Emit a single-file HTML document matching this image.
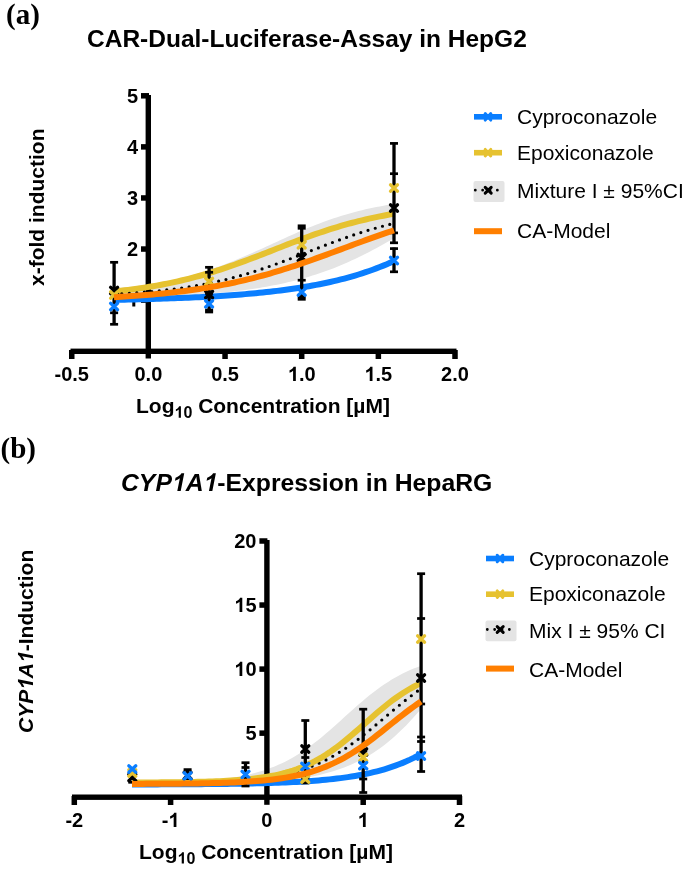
<!DOCTYPE html>
<html><head><meta charset="utf-8"><style>
html,body{margin:0;padding:0;background:#fff;}
svg{display:block;}
text{font-family:"Liberation Sans",sans-serif;fill:#000;}
.tk{font-weight:bold;font-size:20px;}
.ax{font-weight:bold;font-size:21px;}
.sub{font-size:16px;}
.ti{font-weight:bold;font-size:24.5px;}
.lg{font-size:21px;}
.o1{fill-opacity:0;}
.pl{font-family:"Liberation Serif",serif;font-weight:bold;font-size:29px;}
</style></head><body>
<svg style="will-change:transform" width="685" height="870" viewBox="0 0 685 870">
<path d="M114.00,288.49 L117.54,288.17 L121.09,287.83 L124.63,287.47 L128.18,287.08 L131.72,286.68 L135.27,286.25 L138.81,285.80 L142.35,285.32 L145.90,284.81 L149.44,284.28 L152.99,283.71 L156.53,283.12 L160.08,282.49 L163.62,281.83 L167.16,281.14 L170.71,280.41 L174.25,279.64 L177.80,278.84 L181.34,278.00 L184.89,277.12 L188.43,276.20 L191.97,275.23 L195.52,274.23 L199.06,273.19 L202.61,272.10 L206.15,270.98 L209.70,269.81 L213.24,268.60 L216.78,267.35 L220.33,266.06 L223.87,264.74 L227.42,263.37 L230.96,261.97 L234.51,260.54 L238.05,259.07 L241.59,257.58 L245.14,256.06 L248.68,254.51 L252.23,252.94 L255.77,251.35 L259.32,249.75 L262.86,248.14 L266.41,246.51 L269.95,244.89 L273.49,243.26 L277.04,241.63 L280.58,240.00 L284.13,238.39 L287.67,236.79 L291.22,235.20 L294.76,233.64 L298.30,232.09 L301.85,230.57 L305.39,229.08 L308.94,227.62 L312.48,226.19 L316.03,224.79 L319.57,223.43 L323.11,222.10 L326.66,220.82 L330.20,219.57 L333.75,218.37 L337.29,217.20 L340.84,216.08 L344.38,215.00 L347.92,213.96 L351.47,212.96 L355.01,212.00 L358.56,211.08 L362.10,210.21 L365.65,209.37 L369.19,208.57 L372.73,207.80 L376.28,207.08 L379.82,206.39 L383.37,205.73 L386.91,205.10 L390.46,204.51 L394.00,203.95 L394.00,238.07 L390.46,240.14 L386.91,242.19 L383.37,244.21 L379.82,246.19 L376.28,248.14 L372.73,250.04 L369.19,251.91 L365.65,253.74 L362.10,255.52 L358.56,257.26 L355.01,258.95 L351.47,260.60 L347.92,262.20 L344.38,263.75 L340.84,265.26 L337.29,266.72 L333.75,268.13 L330.20,269.49 L326.66,270.81 L323.11,272.07 L319.57,273.30 L316.03,274.47 L312.48,275.61 L308.94,276.69 L305.39,277.74 L301.85,278.74 L298.30,279.70 L294.76,280.63 L291.22,281.51 L287.67,282.35 L284.13,283.16 L280.58,283.93 L277.04,284.67 L273.49,285.37 L269.95,286.05 L266.41,286.69 L262.86,287.30 L259.32,287.88 L255.77,288.44 L252.23,288.97 L248.68,289.47 L245.14,289.95 L241.59,290.40 L238.05,290.84 L234.51,291.25 L230.96,291.64 L227.42,292.01 L223.87,292.36 L220.33,292.70 L216.78,293.02 L213.24,293.32 L209.70,293.61 L206.15,293.88 L202.61,294.14 L199.06,294.38 L195.52,294.61 L191.97,294.83 L188.43,295.04 L184.89,295.24 L181.34,295.43 L177.80,295.60 L174.25,295.77 L170.71,295.93 L167.16,296.08 L163.62,296.23 L160.08,296.36 L156.53,296.49 L152.99,296.61 L149.44,296.72 L145.90,296.83 L142.35,296.94 L138.81,297.03 L135.27,297.12 L131.72,297.21 L128.18,297.29 L124.63,297.37 L121.09,297.45 L117.54,297.52 L114.00,297.58 Z" fill="#E4E4E4"/>
<rect x="145.6" y="95" width="5.4" height="263.5" fill="#000"/>
<rect x="141" y="93.05" width="8" height="5.5" fill="#000"/>
<rect x="141" y="144.13" width="8" height="5.5" fill="#000"/>
<rect x="141" y="195.21" width="8" height="5.5" fill="#000"/>
<rect x="141" y="246.29" width="8" height="5.5" fill="#000"/>
<rect x="141" y="297.37" width="8" height="5.5" fill="#000"/>
<rect x="70.5" y="348.6" width="386" height="5.4" fill="#000"/>
<rect x="69.00" y="350" width="5.5" height="9" fill="#000"/>
<rect x="222.30" y="350" width="5.5" height="9" fill="#000"/>
<rect x="298.95" y="350" width="5.5" height="9" fill="#000"/>
<rect x="375.60" y="350" width="5.5" height="9" fill="#000"/>
<rect x="452.25" y="350" width="5.5" height="9" fill="#000"/>
<text x="138.2" y="102.80" text-anchor="end" class="tk">5</text>
<text x="138.2" y="153.88" text-anchor="end" class="tk">4</text>
<text x="138.2" y="204.96" text-anchor="end" class="tk">3</text>
<text x="138.2" y="256.04" text-anchor="end" class="tk">2</text>
<rect x="132.3" y="296" width="3" height="10.5" fill="#000"/>
<text x="71.75" y="381" text-anchor="middle" class="tk">-0.5</text>
<text x="148.40" y="381" text-anchor="middle" class="tk">0.0</text>
<text x="225.05" y="381" text-anchor="middle" class="tk">0.5</text>
<text x="301.70" y="381" text-anchor="middle" class="tk"><tspan class="o1">1</tspan>.0</text>
<text x="378.35" y="381" text-anchor="middle" class="tk"><tspan class="o1">1</tspan>.5</text>
<text x="455.00" y="381" text-anchor="middle" class="tk">2.0</text>
<path d="M114.00,299.86 L117.54,299.79 L121.09,299.72 L124.63,299.65 L128.18,299.57 L131.72,299.49 L135.27,299.41 L138.81,299.32 L142.35,299.23 L145.90,299.13 L149.44,299.04 L152.99,298.93 L156.53,298.83 L160.08,298.72 L163.62,298.60 L167.16,298.48 L170.71,298.36 L174.25,298.23 L177.80,298.09 L181.34,297.95 L184.89,297.80 L188.43,297.65 L191.97,297.49 L195.52,297.32 L199.06,297.15 L202.61,296.97 L206.15,296.78 L209.70,296.59 L213.24,296.39 L216.78,296.17 L220.33,295.95 L223.87,295.72 L227.42,295.48 L230.96,295.23 L234.51,294.98 L238.05,294.71 L241.59,294.42 L245.14,294.13 L248.68,293.83 L252.23,293.51 L255.77,293.18 L259.32,292.83 L262.86,292.47 L266.41,292.10 L269.95,291.71 L273.49,291.30 L277.04,290.88 L280.58,290.44 L284.13,289.99 L287.67,289.51 L291.22,289.01 L294.76,288.49 L298.30,287.96 L301.85,287.40 L305.39,286.81 L308.94,286.20 L312.48,285.57 L316.03,284.91 L319.57,284.22 L323.11,283.51 L326.66,282.76 L330.20,281.99 L333.75,281.18 L337.29,280.34 L340.84,279.46 L344.38,278.55 L347.92,277.60 L351.47,276.61 L355.01,275.58 L358.56,274.50 L362.10,273.39 L365.65,272.22 L369.19,271.01 L372.73,269.75 L376.28,268.43 L379.82,267.07 L383.37,265.64 L386.91,264.15 L390.46,262.61 L394.00,261.00" stroke="#0A7EFF" stroke-width="6.0" fill="none"/>
<path d="M114.00,291.45 L117.54,291.08 L121.09,290.69 L124.63,290.28 L128.18,289.86 L131.72,289.41 L135.27,288.94 L138.81,288.44 L142.35,287.93 L145.90,287.39 L149.44,286.82 L152.99,286.23 L156.53,285.62 L160.08,284.98 L163.62,284.31 L167.16,283.61 L170.71,282.88 L174.25,282.13 L177.80,281.34 L181.34,280.52 L184.89,279.68 L188.43,278.80 L191.97,277.90 L195.52,276.96 L199.06,275.99 L202.61,274.99 L206.15,273.96 L209.70,272.90 L213.24,271.81 L216.78,270.70 L220.33,269.55 L223.87,268.38 L227.42,267.18 L230.96,265.96 L234.51,264.71 L238.05,263.44 L241.59,262.15 L245.14,260.85 L248.68,259.52 L252.23,258.18 L255.77,256.83 L259.32,255.46 L262.86,254.09 L266.41,252.71 L269.95,251.33 L273.49,249.94 L277.04,248.56 L280.58,247.17 L284.13,245.79 L287.67,244.42 L291.22,243.06 L294.76,241.71 L298.30,240.37 L301.85,239.05 L305.39,237.75 L308.94,236.46 L312.48,235.20 L316.03,233.95 L319.57,232.73 L323.11,231.54 L326.66,230.37 L330.20,229.23 L333.75,228.12 L337.29,227.04 L340.84,225.98 L344.38,224.96 L347.92,223.97 L351.47,223.00 L355.01,222.07 L358.56,221.17 L362.10,220.30 L365.65,219.46 L369.19,218.65 L372.73,217.87 L376.28,217.12 L379.82,216.40 L383.37,215.70 L386.91,215.04 L390.46,214.40 L394.00,213.79" stroke="#E6C230" stroke-width="6.0" fill="none"/>
<path d="M114.00,294.18 L117.54,293.99 L121.09,293.79 L124.63,293.58 L128.18,293.35 L131.72,293.12 L135.27,292.87 L138.81,292.60 L142.35,292.32 L145.90,292.03 L149.44,291.72 L152.99,291.39 L156.53,291.04 L160.08,290.68 L163.62,290.30 L167.16,289.89 L170.71,289.47 L174.25,289.02 L177.80,288.55 L181.34,288.06 L184.89,287.54 L188.43,287.00 L191.97,286.43 L195.52,285.83 L199.06,285.20 L202.61,284.55 L206.15,283.87 L209.70,283.16 L213.24,282.41 L216.78,281.64 L220.33,280.84 L223.87,280.00 L227.42,279.13 L230.96,278.23 L234.51,277.29 L238.05,276.33 L241.59,275.33 L245.14,274.30 L248.68,273.24 L252.23,272.15 L255.77,271.02 L259.32,269.87 L262.86,268.69 L266.41,267.48 L269.95,266.25 L273.49,265.00 L277.04,263.72 L280.58,262.42 L284.13,261.10 L287.67,259.77 L291.22,258.42 L294.76,257.06 L298.30,255.69 L301.85,254.31 L305.39,252.93 L308.94,251.55 L312.48,250.17 L316.03,248.79 L319.57,247.42 L323.11,246.05 L326.66,244.70 L330.20,243.36 L333.75,242.03 L337.29,240.72 L340.84,239.43 L344.38,238.16 L347.92,236.92 L351.47,235.70 L355.01,234.50 L358.56,233.34 L362.10,232.20 L365.65,231.09 L369.19,230.01 L372.73,228.97 L376.28,227.95 L379.82,226.97 L383.37,226.02 L386.91,225.10 L390.46,224.21 L394.00,223.36" stroke="#000" stroke-width="3.2" stroke-dasharray="0 7.52" stroke-dashoffset="-0.3" stroke-linecap="round" fill="none"/>
<line x1="114.10" y1="262.30" x2="114.10" y2="324.30" stroke="#000" stroke-width="3.3"/><rect x="110.10" y="260.95" width="8.00" height="2.70" fill="#000"/><rect x="110.10" y="311.45" width="8.00" height="2.70" fill="#000"/><rect x="110.10" y="322.95" width="8.00" height="2.70" fill="#000"/>
<line x1="209.10" y1="267.30" x2="209.10" y2="311.50" stroke="#000" stroke-width="3.3"/><rect x="205.10" y="265.95" width="8.00" height="2.70" fill="#000"/><rect x="205.10" y="270.95" width="8.00" height="2.70" fill="#000"/><rect x="205.10" y="292.15" width="8.00" height="2.70" fill="#000"/><rect x="205.10" y="308.65" width="8.00" height="2.70" fill="#000"/><rect x="205.10" y="310.65" width="8.00" height="2.70" fill="#000"/>
<line x1="301.70" y1="225.50" x2="301.70" y2="299.30" stroke="#000" stroke-width="3.3"/><rect x="297.70" y="224.45" width="8.00" height="2.70" fill="#000"/><rect x="297.70" y="226.95" width="8.00" height="2.70" fill="#000"/><rect x="297.70" y="278.85" width="8.00" height="2.70" fill="#000"/><rect x="297.70" y="295.45" width="8.00" height="2.70" fill="#000"/><rect x="297.70" y="297.95" width="8.00" height="2.70" fill="#000"/>
<line x1="394.00" y1="143.40" x2="394.00" y2="243.70" stroke="#000" stroke-width="3.3"/><line x1="394.00" y1="247.60" x2="394.00" y2="271.80" stroke="#000" stroke-width="3.3"/><rect x="390.00" y="142.05" width="8.00" height="2.70" fill="#000"/><rect x="390.00" y="172.35" width="8.00" height="2.70" fill="#000"/><rect x="390.00" y="231.55" width="8.00" height="2.70" fill="#000"/><rect x="390.00" y="241.45" width="8.00" height="2.70" fill="#000"/><rect x="390.00" y="247.25" width="8.00" height="2.70" fill="#000"/><rect x="390.00" y="270.45" width="8.00" height="2.70" fill="#000"/>
<path d="M110.60,287.35 L117.60,293.65 M110.60,293.65 L117.60,287.35" stroke="#000" stroke-width="3.3" stroke-linecap="round" fill="none"/>
<path d="M205.60,291.35 L212.60,297.65 M205.60,297.65 L212.60,291.35" stroke="#000" stroke-width="3.3" stroke-linecap="round" fill="none"/>
<path d="M298.20,254.35 L305.20,260.65 M298.20,260.65 L305.20,254.35" stroke="#000" stroke-width="3.3" stroke-linecap="round" fill="none"/>
<path d="M390.50,204.85 L397.50,211.15 M390.50,211.15 L397.50,204.85" stroke="#000" stroke-width="3.3" stroke-linecap="round" fill="none"/>
<path d="M110.60,291.85 L117.60,298.15 M110.60,298.15 L117.60,291.85" stroke="#E6C230" stroke-width="3.3" stroke-linecap="round" fill="none"/>
<path d="M205.60,278.35 L212.60,284.65 M205.60,284.65 L212.60,278.35" stroke="#E6C230" stroke-width="3.3" stroke-linecap="round" fill="none"/>
<path d="M298.20,241.65 L305.20,247.95 M298.20,247.95 L305.20,241.65" stroke="#E6C230" stroke-width="3.3" stroke-linecap="round" fill="none"/>
<path d="M390.50,184.85 L397.50,191.15 M390.50,191.15 L397.50,184.85" stroke="#E6C230" stroke-width="3.3" stroke-linecap="round" fill="none"/>
<path d="M110.60,303.35 L117.60,309.65 M110.60,309.65 L117.60,303.35" stroke="#0A7EFF" stroke-width="3.3" stroke-linecap="round" fill="none"/>
<path d="M205.60,300.65 L212.60,306.95 M205.60,306.95 L212.60,300.65" stroke="#0A7EFF" stroke-width="3.3" stroke-linecap="round" fill="none"/>
<path d="M298.20,288.85 L305.20,295.15 M298.20,295.15 L305.20,288.85" stroke="#0A7EFF" stroke-width="3.3" stroke-linecap="round" fill="none"/>
<path d="M390.50,257.35 L397.50,263.65 M390.50,263.65 L397.50,257.35" stroke="#0A7EFF" stroke-width="3.3" stroke-linecap="round" fill="none"/>
<path d="M114.00,297.13 L117.54,296.93 L121.09,296.73 L124.63,296.51 L128.18,296.29 L131.72,296.05 L135.27,295.81 L138.81,295.55 L142.35,295.28 L145.90,295.00 L149.44,294.70 L152.99,294.40 L156.53,294.08 L160.08,293.74 L163.62,293.39 L167.16,293.02 L170.71,292.64 L174.25,292.25 L177.80,291.83 L181.34,291.40 L184.89,290.95 L188.43,290.48 L191.97,289.99 L195.52,289.48 L199.06,288.96 L202.61,288.41 L206.15,287.84 L209.70,287.25 L213.24,286.63 L216.78,286.00 L220.33,285.34 L223.87,284.65 L227.42,283.95 L230.96,283.22 L234.51,282.46 L238.05,281.68 L241.59,280.87 L245.14,280.04 L248.68,279.18 L252.23,278.30 L255.77,277.39 L259.32,276.46 L262.86,275.50 L266.41,274.52 L269.95,273.51 L273.49,272.48 L277.04,271.42 L280.58,270.34 L284.13,269.24 L287.67,268.12 L291.22,266.97 L294.76,265.81 L298.30,264.62 L301.85,263.42 L305.39,262.20 L308.94,260.96 L312.48,259.71 L316.03,258.44 L319.57,257.16 L323.11,255.88 L326.66,254.58 L330.20,253.27 L333.75,251.96 L337.29,250.65 L340.84,249.33 L344.38,248.01 L347.92,246.69 L351.47,245.37 L355.01,244.06 L358.56,242.75 L362.10,241.45 L365.65,240.16 L369.19,238.88 L372.73,237.61 L376.28,236.35 L379.82,235.11 L383.37,233.88 L386.91,232.67 L390.46,231.48 L394.00,230.31" stroke="#FF7F00" stroke-width="6.0" fill="none"/>
<text x="6" y="24" class="pl">(a)</text>
<text x="87" y="47" class="ti">CAR-Dual-Luciferase-Assay in HepG2</text>
<text transform="translate(44,286) rotate(-90)" class="ax">x-fold induction</text>
<text x="136" y="412.8" class="ax">Log<tspan class="sub" dy="5"><tspan class="o1">1</tspan>0</tspan><tspan dy="-5"> Concentration [µM]</tspan></text>
<rect x="474" y="114.00" width="28" height="5.6" fill="#0A7EFF"/><path d="M485.20,113.55 L490.80,120.05 M485.20,120.05 L490.80,113.55" stroke="#0A7EFF" stroke-width="3.0" stroke-linecap="round" fill="none"/><text x="517" y="123.60" class="lg">Cyproconazole</text><rect x="474" y="149.90" width="28" height="5.6" fill="#E6C230"/><path d="M485.20,149.45 L490.80,155.95 M485.20,155.95 L490.80,149.45" stroke="#E6C230" stroke-width="3.0" stroke-linecap="round" fill="none"/><text x="517" y="160.00" class="lg">Epoxiconazole</text><rect x="473.5" y="181.10" width="31" height="20.8" rx="2" fill="#E4E4E4"/><path d="M475.3,190.20 L503.5,190.20" stroke="#000" stroke-width="2.8" stroke-dasharray="0 7.35" stroke-linecap="round"/><path d="M485.20,187.30 L491.20,193.10 M485.20,193.10 L491.20,187.30" stroke="#000" stroke-width="3.0" stroke-linecap="round" fill="none"/><text x="517" y="197.60" class="lg">Mixture I ± 95%CI</text><rect x="474" y="228.20" width="28" height="6" fill="#FF7F00"/><text x="517" y="238.20" class="lg">CA-Model</text>
<path d="M132.00,783.22 L135.66,783.18 L139.32,783.13 L142.97,783.08 L146.63,783.03 L150.29,782.96 L153.95,782.90 L157.61,782.82 L161.27,782.74 L164.92,782.65 L168.58,782.54 L172.24,782.43 L175.90,782.31 L179.56,782.17 L183.22,782.02 L186.87,781.86 L190.53,781.67 L194.19,781.47 L197.85,781.25 L201.51,781.00 L205.16,780.73 L208.82,780.44 L212.48,780.11 L216.14,779.75 L219.80,779.36 L223.46,778.93 L227.11,778.45 L230.77,777.93 L234.43,777.36 L238.09,776.73 L241.75,776.05 L245.41,775.30 L249.06,774.48 L252.72,773.59 L256.38,772.62 L260.04,771.57 L263.70,770.43 L267.35,769.19 L271.01,767.85 L274.67,766.40 L278.33,764.84 L281.99,763.17 L285.65,761.38 L289.30,759.46 L292.96,757.42 L296.62,755.25 L300.28,752.95 L303.94,750.53 L307.59,747.98 L311.25,745.31 L314.91,742.53 L318.57,739.64 L322.23,736.65 L325.89,733.57 L329.54,730.42 L333.20,727.20 L336.86,723.94 L340.52,720.65 L344.18,717.34 L347.84,714.04 L351.49,710.75 L355.15,707.49 L358.81,704.29 L362.47,701.15 L366.13,698.08 L369.78,695.11 L373.44,692.23 L377.10,689.47 L380.76,686.82 L384.42,684.29 L388.08,681.88 L391.73,679.61 L395.39,677.46 L399.05,675.43 L402.71,673.54 L406.37,671.76 L410.03,670.11 L413.68,668.57 L417.34,667.14 L421.00,665.81 L421.00,708.99 L417.34,713.23 L413.68,717.33 L410.03,721.30 L406.37,725.13 L402.71,728.81 L399.05,732.33 L395.39,735.70 L391.73,738.92 L388.08,741.98 L384.42,744.88 L380.76,747.63 L377.10,750.22 L373.44,752.67 L369.78,754.98 L366.13,757.14 L362.47,759.17 L358.81,761.08 L355.15,762.86 L351.49,764.52 L347.84,766.07 L344.18,767.51 L340.52,768.86 L336.86,770.11 L333.20,771.27 L329.54,772.35 L325.89,773.35 L322.23,774.27 L318.57,775.13 L314.91,775.92 L311.25,776.66 L307.59,777.33 L303.94,777.96 L300.28,778.54 L296.62,779.07 L292.96,779.56 L289.30,780.02 L285.65,780.44 L281.99,780.82 L278.33,781.18 L274.67,781.50 L271.01,781.81 L267.35,782.08 L263.70,782.34 L260.04,782.57 L256.38,782.79 L252.72,782.99 L249.06,783.17 L245.41,783.34 L241.75,783.49 L238.09,783.63 L234.43,783.77 L230.77,783.89 L227.11,784.00 L223.46,784.10 L219.80,784.19 L216.14,784.28 L212.48,784.35 L208.82,784.43 L205.16,784.49 L201.51,784.55 L197.85,784.61 L194.19,784.66 L190.53,784.71 L186.87,784.75 L183.22,784.79 L179.56,784.83 L175.90,784.86 L172.24,784.89 L168.58,784.92 L164.92,784.95 L161.27,784.97 L157.61,784.99 L153.95,785.01 L150.29,785.03 L146.63,785.05 L142.97,785.07 L139.32,785.08 L135.66,785.09 L132.00,785.11 Z" fill="#E4E4E4"/>
<rect x="264.2" y="540" width="5.4" height="264.8" fill="#000"/>
<rect x="259.4" y="538.25" width="8" height="5.5" fill="#000"/>
<rect x="259.4" y="602.30" width="8" height="5.5" fill="#000"/>
<rect x="259.4" y="666.35" width="8" height="5.5" fill="#000"/>
<rect x="259.4" y="730.40" width="8" height="5.5" fill="#000"/>
<rect x="72" y="794.5" width="390" height="5.4" fill="#000"/>
<rect x="71.55" y="796" width="5.5" height="9" fill="#000"/>
<rect x="167.85" y="796" width="5.5" height="9" fill="#000"/>
<rect x="360.45" y="796" width="5.5" height="9" fill="#000"/>
<rect x="456.75" y="796" width="5.5" height="9" fill="#000"/>
<text x="256.5" y="548.00" text-anchor="end" class="tk">20</text>
<text x="256.5" y="612.05" text-anchor="end" class="tk"><tspan class="o1">1</tspan>5</text>
<text x="256.5" y="676.10" text-anchor="end" class="tk"><tspan class="o1">1</tspan>0</text>
<text x="256.5" y="740.15" text-anchor="end" class="tk">5</text>
<text x="74.30" y="827" text-anchor="middle" class="tk">-2</text>
<text x="170.60" y="827" text-anchor="middle" class="tk">-<tspan class="o1">1</tspan></text>
<text x="266.90" y="827" text-anchor="middle" class="tk">0</text>
<text x="363.20" y="827" text-anchor="middle" class="tk"><tspan class="o1">1</tspan></text>
<text x="459.50" y="827" text-anchor="middle" class="tk">2</text>
<path d="M132.00,784.44 L135.66,784.43 L139.32,784.43 L142.97,784.42 L146.63,784.41 L150.29,784.40 L153.95,784.39 L157.61,784.38 L161.27,784.37 L164.92,784.35 L168.58,784.34 L172.24,784.32 L175.90,784.31 L179.56,784.29 L183.22,784.27 L186.87,784.25 L190.53,784.23 L194.19,784.20 L197.85,784.18 L201.51,784.15 L205.16,784.12 L208.82,784.09 L212.48,784.05 L216.14,784.02 L219.80,783.98 L223.46,783.93 L227.11,783.89 L230.77,783.84 L234.43,783.78 L238.09,783.72 L241.75,783.66 L245.41,783.59 L249.06,783.52 L252.72,783.44 L256.38,783.36 L260.04,783.27 L263.70,783.17 L267.35,783.07 L271.01,782.95 L274.67,782.83 L278.33,782.70 L281.99,782.56 L285.65,782.41 L289.30,782.24 L292.96,782.07 L296.62,781.88 L300.28,781.67 L303.94,781.45 L307.59,781.22 L311.25,780.96 L314.91,780.69 L318.57,780.40 L322.23,780.08 L325.89,779.74 L329.54,779.38 L333.20,778.98 L336.86,778.56 L340.52,778.11 L344.18,777.62 L347.84,777.10 L351.49,776.54 L355.15,775.94 L358.81,775.29 L362.47,774.60 L366.13,773.85 L369.78,773.06 L373.44,772.20 L377.10,771.29 L380.76,770.31 L384.42,769.26 L388.08,768.14 L391.73,766.95 L395.39,765.67 L399.05,764.30 L402.71,762.84 L406.37,761.29 L410.03,759.63 L413.68,757.87 L417.34,756.00 L421.00,754.00" stroke="#0A7EFF" stroke-width="6.0" fill="none"/>
<path d="M132.00,784.08 L135.66,784.06 L139.32,784.04 L142.97,784.01 L146.63,783.98 L150.29,783.95 L153.95,783.92 L157.61,783.89 L161.27,783.85 L164.92,783.80 L168.58,783.76 L172.24,783.70 L175.90,783.65 L179.56,783.59 L183.22,783.52 L186.87,783.44 L190.53,783.36 L194.19,783.27 L197.85,783.17 L201.51,783.06 L205.16,782.94 L208.82,782.81 L212.48,782.67 L216.14,782.51 L219.80,782.34 L223.46,782.16 L227.11,781.95 L230.77,781.73 L234.43,781.48 L238.09,781.21 L241.75,780.92 L245.41,780.59 L249.06,780.24 L252.72,779.86 L256.38,779.44 L260.04,778.99 L263.70,778.49 L267.35,777.95 L271.01,777.36 L274.67,776.71 L278.33,776.02 L281.99,775.26 L285.65,774.44 L289.30,773.55 L292.96,772.59 L296.62,771.56 L300.28,770.44 L303.94,769.23 L307.59,767.94 L311.25,766.55 L314.91,765.06 L318.57,763.47 L322.23,761.77 L325.89,759.96 L329.54,758.05 L333.20,756.02 L336.86,753.88 L340.52,751.63 L344.18,749.27 L347.84,746.80 L351.49,744.23 L355.15,741.57 L358.81,738.81 L362.47,735.97 L366.13,733.05 L369.78,730.07 L373.44,727.04 L377.10,723.97 L380.76,720.88 L384.42,717.77 L388.08,714.66 L391.73,711.56 L395.39,708.49 L399.05,705.46 L402.71,702.48 L406.37,699.57 L410.03,696.73 L413.68,693.97 L417.34,691.31 L421.00,688.74" stroke="#000" stroke-width="3.2" stroke-dasharray="0 7.64" stroke-dashoffset="-6.25" stroke-linecap="round" fill="none"/>
<path d="M132.00,782.50 L135.66,782.49 L139.32,782.48 L142.97,782.46 L146.63,782.45 L150.29,782.43 L153.95,782.41 L157.61,782.38 L161.27,782.36 L164.92,782.33 L168.58,782.30 L172.24,782.26 L175.90,782.22 L179.56,782.17 L183.22,782.12 L186.87,782.07 L190.53,782.00 L194.19,781.93 L197.85,781.86 L201.51,781.77 L205.16,781.67 L208.82,781.56 L212.48,781.44 L216.14,781.31 L219.80,781.16 L223.46,780.99 L227.11,780.80 L230.77,780.59 L234.43,780.36 L238.09,780.11 L241.75,779.82 L245.41,779.50 L249.06,779.15 L252.72,778.76 L256.38,778.32 L260.04,777.84 L263.70,777.31 L267.35,776.72 L271.01,776.07 L274.67,775.35 L278.33,774.56 L281.99,773.69 L285.65,772.73 L289.30,771.68 L292.96,770.53 L296.62,769.28 L300.28,767.91 L303.94,766.43 L307.59,764.82 L311.25,763.08 L314.91,761.21 L318.57,759.21 L322.23,757.06 L325.89,754.78 L329.54,752.36 L333.20,749.80 L336.86,747.12 L340.52,744.32 L344.18,741.41 L347.84,738.40 L351.49,735.31 L355.15,732.14 L358.81,728.93 L362.47,725.69 L366.13,722.44 L369.78,719.20 L373.44,715.98 L377.10,712.82 L380.76,709.71 L384.42,706.69 L388.08,703.77 L391.73,700.95 L395.39,698.26 L399.05,695.69 L402.71,693.25 L406.37,690.95 L410.03,688.79 L413.68,686.77 L417.34,684.88 L421.00,683.13" stroke="#E6C230" stroke-width="6.0" fill="none"/>
<rect x="128.30" y="780.95" width="8.00" height="2.70" fill="#000"/>
<line x1="187.60" y1="769.60" x2="187.60" y2="780.00" stroke="#000" stroke-width="3.3"/><rect x="183.60" y="768.25" width="8.00" height="2.70" fill="#000"/>
<line x1="245.50" y1="762.70" x2="245.50" y2="786.00" stroke="#000" stroke-width="3.3"/><rect x="241.50" y="761.35" width="8.00" height="2.70" fill="#000"/><rect x="241.50" y="766.15" width="8.00" height="2.70" fill="#000"/><rect x="241.50" y="784.65" width="8.00" height="2.70" fill="#000"/>
<line x1="305.30" y1="720.50" x2="305.30" y2="783.50" stroke="#000" stroke-width="3.3"/><rect x="301.30" y="719.15" width="8.00" height="2.70" fill="#000"/><rect x="301.30" y="756.15" width="8.00" height="2.70" fill="#000"/><rect x="301.30" y="776.65" width="8.00" height="2.70" fill="#000"/><rect x="301.30" y="781.65" width="8.00" height="2.70" fill="#000"/>
<line x1="363.20" y1="709.20" x2="363.20" y2="792.50" stroke="#000" stroke-width="3.3"/><rect x="359.20" y="707.85" width="8.00" height="2.70" fill="#000"/><rect x="359.20" y="749.65" width="8.00" height="2.70" fill="#000"/><rect x="359.20" y="777.65" width="8.00" height="2.70" fill="#000"/><rect x="359.20" y="791.15" width="8.00" height="2.70" fill="#000"/>
<line x1="421.10" y1="573.70" x2="421.10" y2="771.50" stroke="#000" stroke-width="3.3"/><rect x="417.10" y="572.35" width="8.00" height="2.70" fill="#000"/><rect x="417.10" y="617.15" width="8.00" height="2.70" fill="#000"/><rect x="417.10" y="702.65" width="8.00" height="2.70" fill="#000"/><rect x="417.10" y="735.65" width="8.00" height="2.70" fill="#000"/><rect x="417.10" y="740.15" width="8.00" height="2.70" fill="#000"/><rect x="417.10" y="770.15" width="8.00" height="2.70" fill="#000"/>
<path d="M128.80,774.35 L135.80,780.65 M128.80,780.65 L135.80,774.35" stroke="#000" stroke-width="3.3" stroke-linecap="round" fill="none"/>
<path d="M184.10,772.35 L191.10,778.65 M184.10,778.65 L191.10,772.35" stroke="#000" stroke-width="3.3" stroke-linecap="round" fill="none"/>
<path d="M301.80,745.85 L308.80,752.15 M301.80,752.15 L308.80,745.85" stroke="#000" stroke-width="3.3" stroke-linecap="round" fill="none"/>
<path d="M359.70,748.85 L366.70,755.15 M359.70,755.15 L366.70,748.85" stroke="#000" stroke-width="3.3" stroke-linecap="round" fill="none"/>
<path d="M417.60,674.85 L424.60,681.15 M417.60,681.15 L424.60,674.85" stroke="#000" stroke-width="3.3" stroke-linecap="round" fill="none"/>
<path d="M128.80,769.85 L135.80,776.15 M128.80,776.15 L135.80,769.85" stroke="#E6C230" stroke-width="3.3" stroke-linecap="round" fill="none"/>
<path d="M301.80,775.85 L308.80,782.15 M301.80,782.15 L308.80,775.85" stroke="#E6C230" stroke-width="3.3" stroke-linecap="round" fill="none"/>
<path d="M359.70,754.35 L366.70,760.65 M359.70,760.65 L366.70,754.35" stroke="#E6C230" stroke-width="3.3" stroke-linecap="round" fill="none"/>
<path d="M417.60,635.85 L424.60,642.15 M417.60,642.15 L424.60,635.85" stroke="#E6C230" stroke-width="3.3" stroke-linecap="round" fill="none"/>
<path d="M128.80,765.85 L135.80,772.15 M128.80,772.15 L135.80,765.85" stroke="#0A7EFF" stroke-width="3.3" stroke-linecap="round" fill="none"/>
<path d="M184.10,772.85 L191.10,779.15 M184.10,779.15 L191.10,772.85" stroke="#0A7EFF" stroke-width="3.3" stroke-linecap="round" fill="none"/>
<path d="M242.00,771.35 L249.00,777.65 M242.00,777.65 L249.00,771.35" stroke="#0A7EFF" stroke-width="3.3" stroke-linecap="round" fill="none"/>
<path d="M301.80,763.35 L308.80,769.65 M301.80,769.65 L308.80,763.35" stroke="#0A7EFF" stroke-width="3.3" stroke-linecap="round" fill="none"/>
<path d="M359.70,762.55 L366.70,768.85 M359.70,768.85 L366.70,762.55" stroke="#0A7EFF" stroke-width="3.3" stroke-linecap="round" fill="none"/>
<path d="M417.60,752.85 L424.60,759.15 M417.60,759.15 L424.60,752.85" stroke="#0A7EFF" stroke-width="3.3" stroke-linecap="round" fill="none"/>
<path d="M132.00,783.91 L135.66,783.90 L139.32,783.89 L142.97,783.88 L146.63,783.87 L150.29,783.85 L153.95,783.83 L157.61,783.81 L161.27,783.79 L164.92,783.77 L168.58,783.74 L172.24,783.72 L175.90,783.68 L179.56,783.65 L183.22,783.61 L186.87,783.57 L190.53,783.52 L194.19,783.47 L197.85,783.41 L201.51,783.35 L205.16,783.28 L208.82,783.20 L212.48,783.12 L216.14,783.03 L219.80,782.92 L223.46,782.81 L227.11,782.68 L230.77,782.54 L234.43,782.39 L238.09,782.22 L241.75,782.03 L245.41,781.82 L249.06,781.60 L252.72,781.35 L256.38,781.07 L260.04,780.77 L263.70,780.44 L267.35,780.07 L271.01,779.67 L274.67,779.22 L278.33,778.74 L281.99,778.21 L285.65,777.63 L289.30,776.99 L292.96,776.30 L296.62,775.54 L300.28,774.71 L303.94,773.81 L307.59,772.83 L311.25,771.77 L314.91,770.62 L318.57,769.38 L322.23,768.04 L325.89,766.60 L329.54,765.06 L333.20,763.40 L336.86,761.64 L340.52,759.76 L344.18,757.76 L347.84,755.66 L351.49,753.44 L355.15,751.11 L358.81,748.68 L362.47,746.14 L366.13,743.52 L369.78,740.82 L373.44,738.04 L377.10,735.20 L380.76,732.32 L384.42,729.40 L388.08,726.46 L391.73,723.52 L395.39,720.59 L399.05,717.68 L402.71,714.82 L406.37,712.00 L410.03,709.25 L413.68,706.58 L417.34,703.99 L421.00,701.50" stroke="#FF7F00" stroke-width="6.0" fill="none"/>
<text x="0.5" y="458" class="pl">(b)</text>
<text x="121" y="491" class="ti" style="font-size:24.75px"><tspan font-style="italic">CYP<tspan class="o1">1</tspan>A<tspan class="o1">1</tspan></tspan>-Expression in HepaRG</text>
<text transform="translate(33,733) rotate(-90)" class="ax"><tspan font-style="italic">CYP<tspan class="o1">1</tspan>A<tspan class="o1">1</tspan></tspan>-Induction</text>
<text x="139" y="858.6" class="ax">Log<tspan class="sub" dy="5"><tspan class="o1">1</tspan>0</tspan><tspan dy="-5"> Concentration [µM]</tspan></text>
<rect x="486" y="555.70" width="28" height="5.6" fill="#0A7EFF"/><path d="M497.20,555.25 L502.80,561.75 M497.20,561.75 L502.80,555.25" stroke="#0A7EFF" stroke-width="3.0" stroke-linecap="round" fill="none"/><text x="529" y="565.60" class="lg">Cyproconazole</text><rect x="486" y="591.40" width="28" height="5.6" fill="#E6C230"/><path d="M497.20,590.95 L502.80,597.45 M497.20,597.45 L502.80,590.95" stroke="#E6C230" stroke-width="3.0" stroke-linecap="round" fill="none"/><text x="529" y="601.00" class="lg">Epoxiconazole</text><rect x="485.5" y="620.40" width="31" height="20.8" rx="2" fill="#E4E4E4"/><path d="M487.3,629.50 L515.5,629.50" stroke="#000" stroke-width="2.8" stroke-dasharray="0 7.35" stroke-linecap="round"/><path d="M497.20,626.60 L503.20,632.40 M497.20,632.40 L503.20,626.60" stroke="#000" stroke-width="3.0" stroke-linecap="round" fill="none"/><text x="529" y="637.60" class="lg">Mix I ± 95% CI</text><rect x="486" y="665.60" width="28" height="6" fill="#FF7F00"/><text x="529" y="676.60" class="lg">CA-Model</text>
<path transform="translate(287.794,381.000) scale(0.009766,-0.009766)" d="M823 0H542V1059C439 963 319 892 179 846V1101C253 1125 333 1171 419 1238C505 1306 564 1382 596 1466H823Z"/>
<path transform="translate(364.444,381.000) scale(0.009766,-0.009766)" d="M823 0H542V1059C439 963 319 892 179 846V1101C253 1125 333 1171 419 1238C505 1306 564 1382 596 1466H823Z"/>
<path transform="translate(174.484,417.800) scale(0.007812,-0.007812)" d="M823 0H542V1059C439 963 319 892 179 846V1101C253 1125 333 1171 419 1238C505 1306 564 1382 596 1466H823Z"/>
<path transform="translate(234.250,612.050) scale(0.009766,-0.009766)" d="M823 0H542V1059C439 963 319 892 179 846V1101C253 1125 333 1171 419 1238C505 1306 564 1382 596 1466H823Z"/>
<path transform="translate(234.250,676.100) scale(0.009766,-0.009766)" d="M823 0H542V1059C439 963 319 892 179 846V1101C253 1125 333 1171 419 1238C505 1306 564 1382 596 1466H823Z"/>
<path transform="translate(168.373,827.000) scale(0.009766,-0.009766)" d="M823 0H542V1059C439 963 319 892 179 846V1101C253 1125 333 1171 419 1238C505 1306 564 1382 596 1466H823Z"/>
<path transform="translate(357.638,827.000) scale(0.009766,-0.009766)" d="M823 0H542V1059C439 963 319 892 179 846V1101C253 1125 333 1171 419 1238C505 1306 564 1382 596 1466H823Z"/>
<path transform="translate(171.891,491.000) scale(0.012085,-0.012085) matrix(1,0,0.2,1,-95,0)" d="M823 0H542V1059C439 963 319 892 179 846V1101C253 1125 333 1171 419 1238C505 1306 564 1382 596 1466H823Z"/>
<path transform="translate(203.531,491.000) scale(0.012085,-0.012085) matrix(1,0,0.2,1,-95,0)" d="M823 0H542V1059C439 963 319 892 179 846V1101C253 1125 333 1171 419 1238C505 1306 564 1382 596 1466H823Z"/>
<g transform="translate(33,733) rotate(-90)"><path transform="translate(43.188,0.000) scale(0.010254,-0.010254) matrix(1,0,0.2,1,-95,0)" d="M823 0H542V1059C439 963 319 892 179 846V1101C253 1125 333 1171 419 1238C505 1306 564 1382 596 1466H823Z"/></g>
<g transform="translate(33,733) rotate(-90)"><path transform="translate(70.047,0.000) scale(0.010254,-0.010254) matrix(1,0,0.2,1,-95,0)" d="M823 0H542V1059C439 963 319 892 179 846V1101C253 1125 333 1171 419 1238C505 1306 564 1382 596 1466H823Z"/></g>
<path transform="translate(177.484,863.600) scale(0.007812,-0.007812)" d="M823 0H542V1059C439 963 319 892 179 846V1101C253 1125 333 1171 419 1238C505 1306 564 1382 596 1466H823Z"/>
</svg>
</body></html>
